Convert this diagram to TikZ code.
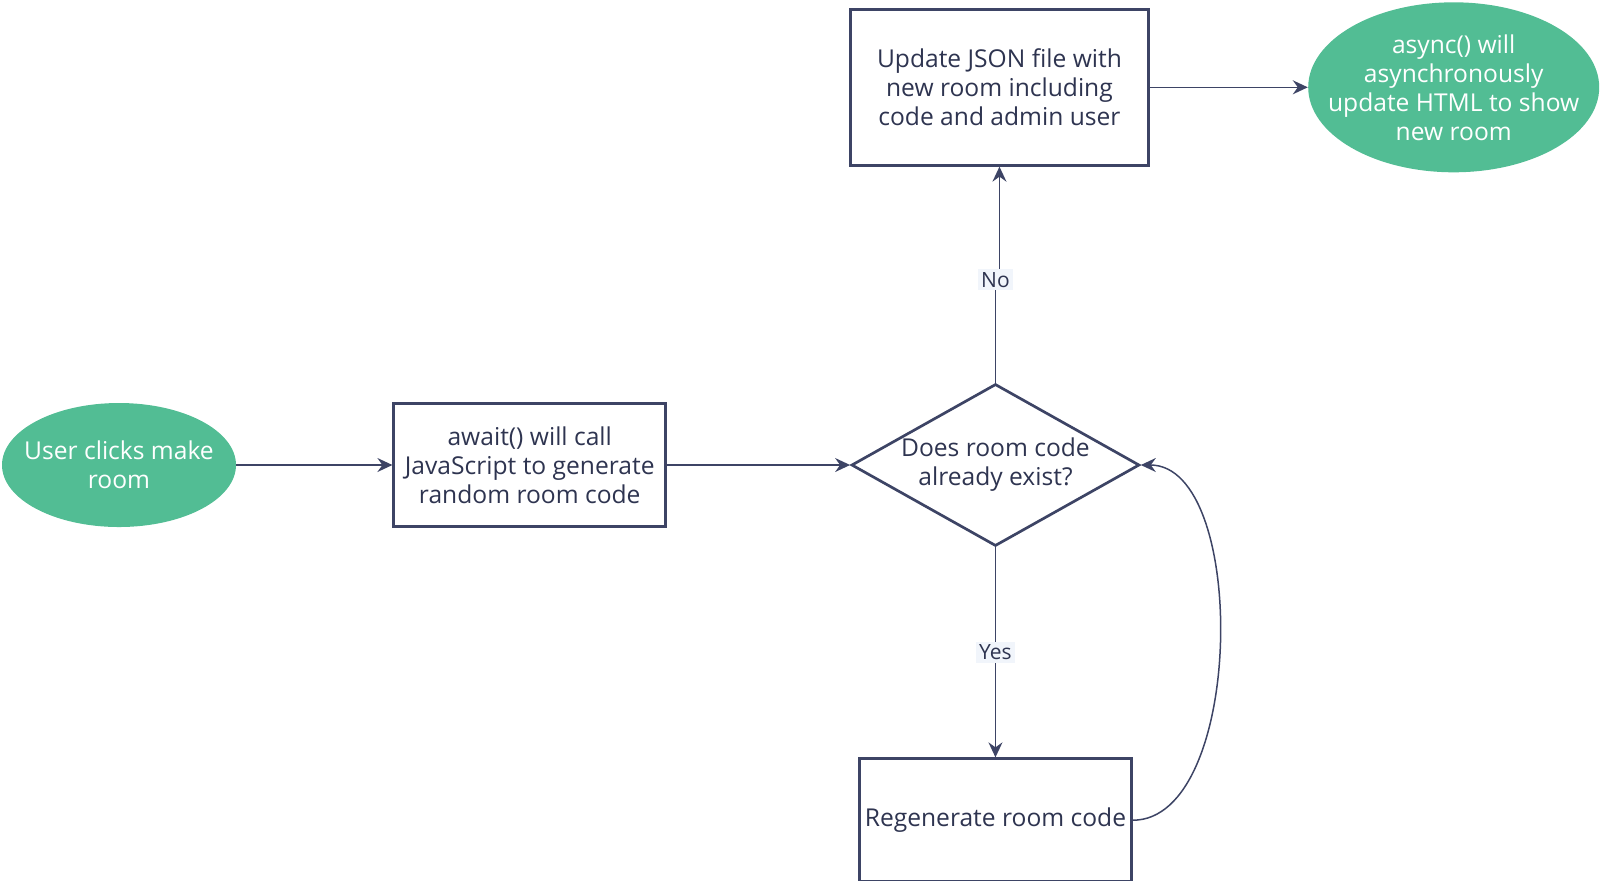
\documentclass[tikz,border=0pt]{standalone}
\usepackage{fontspec}
\setmainfont{Open Sans}
\usetikzlibrary{positioning,shapes.geometric,arrows.meta}
\definecolor{ink}{HTML}{3D4465}
\definecolor{txt}{HTML}{2E3450}
\definecolor{mint}{HTML}{52BD94}
\definecolor{tag}{HTML}{F1F5FB}
\begin{document}
\begin{tikzpicture}[font=\fontsize{12.3}{14.5}\selectfont,
	box/.style = {draw=ink, line width=1.35pt, text=txt, align=center, minimum width=136pt, minimum height=61.5pt, inner sep=2pt},
	term/.style = {ellipse, fill=mint, text=white, align=center, inner xsep=-12pt, inner ysep=-5pt},
	ask/.style = {diamond, aspect=1.78, draw=ink, line width=1.35pt, text=txt, align=center, minimum width=144pt, minimum height=81pt, inner sep=-2pt},
	flow/.style = {draw=ink, line width=0.75pt, -{Stealth[length=7.5pt, width=7pt, inset=2.5pt]}},
	lbl/.style = {fill=tag, text=txt, font=\fontsize{10.5}{12}\selectfont, inner sep=1.5pt}]
				\useasboundingbox (0,0) rectangle (800pt,-440pt);
				\node[term, minimum width=117pt, minimum height=62pt] (1) at (59.5pt,-232.5pt) {User clicks make\\room};
				\node[box] (2) [right=78pt of 1] {await() will call\\JavaScript to generate\\random room code};
				\node[ask] (3) [right=91.5pt of 2] {Does room code\\already exist?};
				\node[box, minimum width=149pt, minimum height=78pt] (4) [above=108pt of 3, xshift=2pt] {Update JSON file with\\new room including\\code and admin user};
				\node[term, minimum width=145.5pt, minimum height=85pt] (5) [right=79pt of 4] {async() will\\asynchronously\\update HTML to show\\new room};
				\node[box] (6) [below=105pt of 3] {Regenerate room code};
				\draw[flow] (1) -- (2);
				\draw[flow] (2) -- (3);
				\draw[flow] (3.north) -- ++(0,51.5pt) node[lbl] {No} -| (4.south);
				\draw[flow] (3) -- node[lbl] {Yes} (6);
				\draw[flow] (4) -- (5);
				\draw[flow] (6.east) .. controls +(56pt,0) and +(54pt,0) .. (3.east);
			\end{tikzpicture}
\end{document}
